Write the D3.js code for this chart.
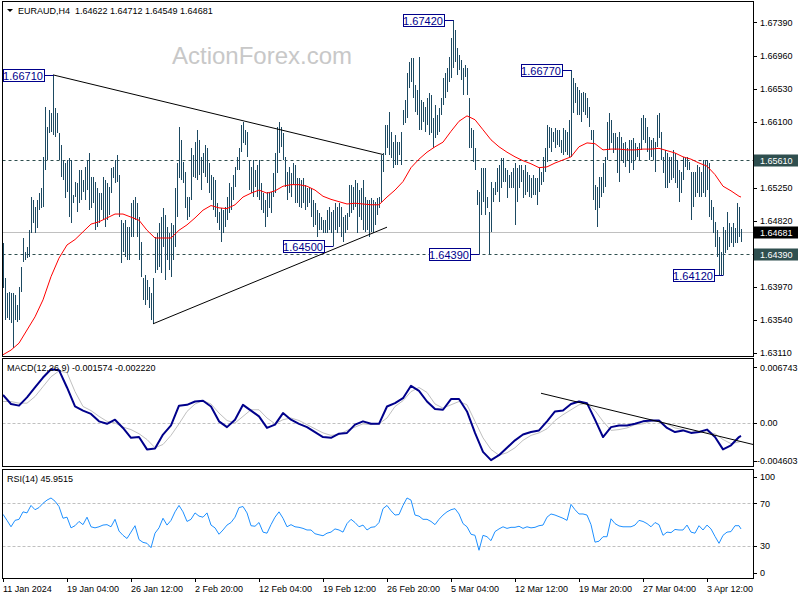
<!DOCTYPE html>
<html><head><meta charset="utf-8">
<script src="https://cdn.jsdelivr.net/npm/d3@7"></script>
<style>
body{margin:0;background:#fff}
svg{display:block}
text{font-family:"Liberation Sans",Arial,sans-serif}
</style>
</head><body>
<svg id="c" width="800" height="600"></svg>
<script>
// ---------------- DATA ----------------
const symbol = "EURAUD,H4";
const lastOHLC = [1.64622, 1.64712, 1.64549, 1.64681];

const highs = [
1.6454,1.6408,1.6389,1.6390,1.6389,1.6389,1.6386,1.6373,1.6397,1.6423,
1.6460,1.6442,1.6448,1.6470,1.6513,1.6509,1.6500,1.6509,1.6518,1.6525,
1.6565,1.6630,1.6604,1.6626,1.6622,1.6671,1.6628,1.6622,1.6596,1.6580,
1.6561,1.6557,1.6561,1.6564,1.6561,1.6516,1.6533,1.6531,1.6548,1.6548,
1.6535,1.6552,1.6561,1.6570,1.6539,1.6539,1.6533,1.6525,1.6518,1.6518,
1.6539,1.6535,1.6531,1.6526,1.6551,1.6552,1.6561,1.6567,1.6542,1.6483,
1.6479,1.6483,1.6474,1.6474,1.6505,1.6509,1.6513,1.6505,1.6487,1.6455,
1.6408,1.6412,1.6406,1.6397,1.6389,1.6408,1.6461,1.6467,1.6479,1.6487,
1.6499,1.6490,1.6474,1.6467,1.6479,1.6477,1.6525,1.6557,1.6604,1.6587,
1.6558,1.6545,1.6513,1.6513,
1.6577,1.6567,1.6584,1.6600,1.6587,1.6565,1.6570,1.6580,1.6577,1.6557,
1.6542,1.6539,1.6535,1.6505,1.6494,1.6499,1.6496,1.6500,1.6513,1.6531,
1.6526,1.6542,1.6552,1.6565,1.6577,1.6606,1.6610,1.6600,1.6597,1.6561,
1.6552,1.6561,1.6548,1.6555,1.6561,1.6531,1.6518,1.6509,1.6520,1.6518,
1.6520,1.6544,1.6570,1.6604,1.6610,1.6604,1.6596,1.6565,1.6545,1.6552,
1.6544,1.6557,1.6555,1.6538,1.6538,1.6535,1.6538,1.6529,1.6525,1.6526,
1.6525,1.6509,1.6505,1.6496,1.6492,1.6487,1.6483,1.6483,1.6496,1.6500,
1.6494,1.6496,1.6505,1.6500,1.6505,1.6500,1.6487,1.6490,1.6492,1.6529,
1.6529,1.6526,1.6535,1.6531,1.6522,1.6525,1.6535,1.6513,1.6509,1.6509,1.6512,1.6509,
1.6506,1.6512,1.6513,1.6567,1.6570,1.6606,1.6606,1.6623,1.6597,1.6584,
1.6593,1.6584,1.6584,1.6597,1.6626,1.6639,1.6674,1.6688,1.6693,1.6693,
1.6658,1.6652,1.6694,1.6639,1.6636,1.6630,1.6641,1.6648,1.6645,1.6615,
1.6632,1.6619,1.6628,1.6641,1.6667,1.6673,1.6680,1.6694,1.6719,1.6742,
1.6729,1.6706,1.6697,1.6690,1.6680,1.6684,1.6680,1.6641,1.6602,1.6600,
1.6577,1.6522,1.6520,1.6551,1.6551,1.6551,1.6513,1.6494,1.6533,1.6525,
1.6533,1.6551,1.6555,1.6564,1.6564,1.6551,1.6548,1.6542,1.6545,1.6551,
1.6557,1.6551,1.6555,1.6555,1.6548,1.6555,1.6545,1.6542,1.6538,1.6542,
1.6538,1.6538,1.6551,1.6545,1.6565,1.6577,1.6606,1.6604,1.6602,1.6597,1.6602,1.6600,
1.6600,
1.6587,1.6602,1.6600,1.6597,1.6613,1.6677,1.6667,1.6661,1.6655,1.6652,
1.6648,1.6649,1.6648,1.6641,1.6630,1.6600,1.6600,1.6529,1.6526,1.6539,
1.6539,1.6557,1.6565,1.6610,1.6622,1.6613,1.6596,1.6596,1.6591,1.6597,
1.6591,1.6583,1.6584,1.6577,1.6587,1.6587,1.6589,1.6583,1.6578,1.6583,
1.6615,1.6619,1.6615,1.6604,1.6591,1.6587,1.6589,1.6584,1.6619,1.6622,
1.6597,1.6565,1.6574,1.6570,1.6565,1.6565,1.6574,1.6570,1.6561,1.6548,
1.6545,1.6565,1.6564,1.6565,1.6558,1.6545,1.6545,1.6545,1.6555,1.6552,
1.6545,1.6561,1.6561,1.6561,1.6557,1.6509,1.6500,1.6481,1.6470,1.6461,
1.6442,1.6474,1.6470,1.6494,1.6479,1.6474,1.6479,1.6473,1.6505,1.6500,1.64712
];

const lows = [
1.6395,1.6354,1.6357,1.6354,1.6350,1.6318,1.6354,1.6351,1.6354,1.6390,
1.6429,1.6432,1.6434,1.6436,1.6467,1.6479,1.6467,1.6473,1.6496,1.6499,
1.6500,1.6548,1.6561,1.6596,1.6597,1.6593,1.6591,1.6596,1.6561,1.6539,
1.6535,1.6512,1.6520,1.6487,1.6479,1.6505,1.6513,1.6494,1.6505,1.6509,
1.6520,1.6509,1.6522,1.6496,1.6499,1.6505,1.6470,1.6474,1.6479,1.6496,
1.6483,1.6474,1.6483,1.6490,1.6518,1.6538,1.6531,1.6533,1.6487,1.6428,
1.6442,1.6436,1.6432,1.6432,1.6461,1.6461,1.6483,1.6461,1.6432,1.6410,
1.6380,1.6373,1.6380,1.6370,1.6354,1.6349,1.6415,1.6419,1.6423,1.6415,
1.6448,1.6406,1.6432,1.6419,1.6410,1.6432,1.6448,1.6487,1.6538,1.6535,
1.6531,1.6499,1.6483,1.6487,
1.6509,1.6539,1.6538,1.6535,1.6542,1.6522,1.6544,1.6539,1.6531,1.6518,
1.6509,1.6496,1.6487,1.6479,1.6470,1.6455,1.6467,1.6474,1.6483,1.6492,
1.6496,1.6509,1.6526,1.6548,1.6548,1.6571,1.6583,1.6580,1.6565,1.6522,
1.6518,1.6513,1.6526,1.6513,1.6509,1.6496,1.6492,1.6474,1.6487,1.6499,
1.6492,1.6513,1.6518,1.6544,1.6570,1.6578,1.6561,1.6526,1.6509,1.6518,
1.6513,1.6529,1.6505,1.6505,1.6500,1.6499,1.6505,1.6496,1.6500,1.6505,
1.6487,1.6474,1.6477,1.6461,1.6470,1.6470,1.6467,1.6467,1.6467,1.6470,
1.6467,1.6450,1.6470,1.6467,1.6474,1.6461,1.6455,1.6467,1.6470,1.6487,
1.6492,1.6496,1.6500,1.6467,1.6487,1.6483,1.6470,1.6468,1.6470,1.6461,1.6468,1.6467,
1.6477,1.6490,1.6499,1.6506,1.6545,1.6567,1.6577,1.6567,1.6564,1.6551,
1.6555,1.6555,1.6567,1.6555,1.6606,1.6609,1.6615,1.6654,1.6662,1.6641,
1.6623,1.6619,1.6600,1.6600,1.6610,1.6597,1.6606,1.6593,1.6596,1.6577,
1.6589,1.6593,1.6597,1.6619,1.6632,1.6641,1.6649,1.6662,1.6667,1.6680,
1.6688,1.6671,1.6677,1.6664,1.6645,1.6668,1.6645,1.6577,1.6577,1.6558,
1.6548,1.6503,1.6439,1.6490,1.6506,1.6490,1.6499,1.6439,1.6468,1.6506,
1.6516,1.6520,1.6506,1.6525,1.6533,1.6533,1.6512,1.6525,1.6525,1.6525,
1.6477,1.6506,1.6525,1.6533,1.6512,1.6516,1.6520,1.6513,1.6512,1.6516,
1.6516,1.6503,1.6520,1.6529,1.6533,1.6545,1.6558,1.6577,1.6571,1.6584,1.6577,1.6580,
1.6578,
1.6570,1.6567,1.6571,1.6567,1.6565,1.6565,1.6622,1.6635,1.6619,1.6619,
1.6610,1.6623,1.6619,1.6615,1.6604,1.6587,1.6509,1.6496,1.6474,1.6499,
1.6513,1.6518,1.6526,1.6561,1.6574,1.6583,1.6570,1.6574,1.6544,1.6533,
1.6561,1.6557,1.6552,1.6561,1.6544,1.6557,1.6548,1.6561,1.6565,1.6561,
1.6574,1.6587,1.6583,1.6571,1.6561,1.6565,1.6561,1.6545,1.6578,1.6589,
1.6561,1.6544,1.6525,1.6525,1.6531,1.6535,1.6538,1.6531,1.6525,1.6506,
1.6518,1.6535,1.6552,1.6548,1.6548,1.6483,1.6500,1.6513,1.6518,1.6513,
1.6513,1.6518,1.6513,1.6522,1.6487,1.6483,1.6467,1.6449,1.6436,1.6412,
1.6412,1.6412,1.6441,1.6445,1.6449,1.6454,1.6449,1.6454,1.6454,1.6461,1.64549
];

// moving average, one value every 4 bars (last value = last bar)
const maStep = 4;
const ma = [
1.6309,1.6315,1.6324,1.6341,1.6358,1.6380,1.6410,1.6434,1.6451,1.6458,
1.6468,1.6478,1.6481,1.6486,1.6491,1.6491,1.6487,1.6483,1.6470,1.6460,
1.6460,1.6460,1.6470,1.6477,1.6486,1.6496,1.6502,1.6499,1.6498,1.6503,
1.6513,1.6518,1.6522,1.6518,1.6521,1.6527,1.6529,1.6529,1.6527,1.6522,
1.6514,1.6510,1.6507,1.6504,1.6505,1.6504,1.6503,1.6503,1.6513,1.6522,
1.6533,1.6551,1.6562,1.6571,1.6578,1.6584,1.6598,1.6611,1.6618,1.6613,
1.6600,1.6587,1.6578,1.6571,1.6565,1.6560,1.6556,1.6551,1.6552,1.6557,
1.6561,1.6565,1.6578,1.6583,1.6582,1.6574,1.6575,1.6575,1.6574,1.6574,
1.6575,1.6575,1.6576,1.6573,1.6570,1.6565,1.6562,1.6557,1.6553,1.6542,
1.6527,1.6521,1.6514,1.6513
];

// MACD(12,26,9): main and signal, one value every 4 bars
const macdStep = 4;
const macd = [
0.0034,0.0023,0.0021,0.0031,0.0043,0.0055,0.0065,0.0064,0.0043,0.0020,
0.0015,0.0011,0.0002,-0.0001,0.0004,-0.0006,-0.0018,-0.0017,-0.0032,-0.0031,
-0.0014,-0.0003,0.0021,0.0022,0.0026,0.0027,0.0020,0.0002,-0.0005,0.0004,
0.0022,0.0015,0.0008,-0.0006,-0.0002,0.0012,0.0004,-0.0001,-0.0005,-0.0011,
-0.0017,-0.0018,-0.0013,-0.0012,-0.0002,0.0002,-0.0001,-0.0001,0.0020,0.0024,
0.0030,0.0045,0.0039,0.0026,0.0017,0.0016,0.0029,0.0029,0.0014,-0.0012,
-0.0035,-0.0045,-0.0039,-0.0030,-0.0021,-0.0014,-0.0011,-0.0009,0.0002,0.0014,
0.0015,0.0023,0.0026,0.0024,0.0004,-0.0017,-0.0005,-0.0003,-0.0003,-0.0001,
0.0002,0.0003,0.0003,-0.0006,-0.0011,-0.0009,-0.0012,-0.0011,-0.0008,-0.0017,
-0.0032,-0.0027,-0.0017,-0.001574
];
const signal = [
0.0026,0.0026,0.0024,0.0024,0.0032,0.0044,0.0056,0.0063,0.0061,0.0038,
0.0020,0.0015,0.0008,0.0002,0.0000,-0.0005,-0.0008,-0.0013,-0.0020,-0.0030,
-0.0026,-0.0015,-0.0001,0.0014,0.0023,0.0027,0.0023,0.0012,0.0003,0.0000,
0.0008,0.0016,0.0016,0.0006,-0.0001,0.0004,0.0006,0.0003,-0.0002,-0.0007,
-0.0012,-0.0015,-0.0014,-0.0009,-0.0005,-0.0001,-0.0002,-0.0001,0.0006,0.0020,
0.0027,0.0038,0.0043,0.0037,0.0023,0.0018,0.0022,0.0026,0.0022,0.0002,
-0.0018,-0.0032,-0.0039,-0.0036,-0.0030,-0.0021,-0.0015,-0.0012,-0.0007,0.0003,
0.0010,0.0016,0.0022,0.0024,0.0015,0.0002,-0.0009,-0.0008,-0.0006,-0.0002,
-0.0001,0.0002,0.0002,-0.0001,-0.0006,-0.0008,-0.0011,-0.0011,-0.0011,-0.0013,
-0.0020,-0.0025,-0.0023,-0.002220
];

// RSI(14), one value every 2 bars
const rsiStep = 2;
const rsi = [
59.7,54,48,54,55,62,61,68,64,66,
70,73,75,72,67,56,57,47,49,53,
50,57,48,47,48,49.6,50,48,55,44,
40,37,43,49,36,33.4,32.5,28.4,42,47,
56,49.6,54,62,68,62,53,55,61,58,
57,61,49.6,47,41,45,49.6,52,57,66,
67,61,49,48.5,52,43,42,50,57,62,
56,48,50,48,47.5,46.5,45,45,41.5,40.5,
39.6,42,43,46,45,43,51,55,52,48,
49.6,45,47.5,48,52,65,68,63,59,59.5,
68,75,73,59,58,55,55,53,50,55,
59,62,64,65,60,51,48,41,40,26,
40,38.7,35,43.5,46,48,46.5,47.5,47.5,48.5,
46.5,48,47,47.5,49,49.6,57,60,59,57.5,
56,54,69,64,60,60,59,50,33.6,34.5,
38.7,38.7,55.5,51,48.8,48,48,48,49.6,54,
53,51,48,52,50,40,43,42.5,45.5,45,
45,49.6,43,42,49,45,49.6,46,39,32.5,
40,43,43.5,49,49,45.9515
];

const macdHeader = ["-0.001574", "-0.002220"];
const rsiHeader = "45.9515";

const timeLabels = ["11 Jan 2024","19 Jan 04:00","26 Jan 12:00","2 Feb 20:00","12 Feb 04:00","19 Feb 12:00","26 Feb 20:00","5 Mar 04:00","12 Mar 12:00","19 Mar 20:00","27 Mar 04:00","3 Apr 12:00"];
const timeLabelBars = [0,32,64,96,128,160,192,224,256,288,320,352];

const priceTicks = [1.6739,1.6696,1.6653,1.6610,1.6525,1.6482,1.6397,1.6354,1.6311];
const priceRange = [1.6311, 1.6742];
const levelLines = [1.6561, 1.6439];
const extremeLabels = [
  {bar:25, price:1.6671},
  {bar:225, price:1.6742},
  {bar:284, price:1.6677},
  {bar:165, price:1.6450},
  {bar:238, price:1.6439},
  {bar:360, price:1.6412}
];
const trendUpper = [{bar:25, price:1.6671},{bar:190, price:1.6568}];
const trendLower = [{bar:75, price:1.6349},{bar:192, price:1.6474}];
const macdTrend  = [{bar:269, value:0.0036},{bar:375, value:-0.0026}];
const macdRange = [-0.004603, 0.006743];
const macdTicks = ["0.006743","0.00","-0.004603"];
const rsiLevels = [70, 30];
const rsiTicks = [100, 70, 30, 0];

// ---------------- DRAW ----------------
const svg = d3.select("#c");
const NB = highs.length;
const lastBar = NB - 1;
const P = {
  main: {x0:2.5, x1:753.5, y0:1.5, y1:356.5},
  macd: {x0:2.5, x1:753.5, y0:358.5, y1:466.5},
  rsi:  {x0:2.5, x1:753.5, y0:469.5, y1:578.5}
};
const x = d3.scaleLinear().domain([0, lastBar]).range([3, 741]);
const bx = i => Math.round(x(i)) + 0.5;
const yP = d3.scaleLinear().domain(priceRange).range([353.2, 20]);
const yM = d3.scaleLinear().domain(macdRange).range([461, 367.3]);
const yR = d3.scaleLinear().domain([0, 100]).range([578, 471.3]);
const BAR = "#1d4a62", NAVY = "#00008b", SLATE = "#2f4f4f";

const defs = svg.append("defs");
Object.entries(P).forEach(([k,p]) => {
  defs.append("clipPath").attr("id","clip-"+k).append("rect")
    .attr("x",p.x0+0.5).attr("y",p.y0+0.5).attr("width",p.x1-p.x0-1).attr("height",p.y1-p.y0-1);
});

// watermark
svg.append("text").attr("x",172).attr("y",64).attr("font-size",24).attr("fill","#c8c8c8")
  .text("ActionForex.com");

const gMain = svg.append("g").attr("clip-path","url(#clip-main)");
// current price line
gMain.append("line").attr("x1",P.main.x0).attr("x2",P.main.x1)
  .attr("y1",Math.round(yP(lastOHLC[3]))+0.5).attr("y2",Math.round(yP(lastOHLC[3]))+0.5)
  .attr("stroke","#c0c0c0");
// horizontal dashed levels
gMain.selectAll("line.lvl").data(levelLines).join("line").attr("class","lvl")
  .attr("x1",P.main.x0).attr("x2",P.main.x1)
  .attr("y1",d=>Math.round(yP(d))+0.5).attr("y2",d=>Math.round(yP(d))+0.5)
  .attr("stroke",SLATE).attr("stroke-dasharray","3,3");
// bars
gMain.selectAll("line.bar").data(highs).join("line").attr("class","bar")
  .attr("x1",(d,i)=>bx(i)).attr("x2",(d,i)=>bx(i))
  .attr("y1",d=>Math.round(yP(d)))
  .attr("y2",(d,i)=>Math.max(Math.round(yP(lows[i])), Math.round(yP(d))+1))
  .attr("stroke",BAR).attr("shape-rendering","crispEdges");
// MA
const maLine = d3.line().x((d,i)=>x(Math.min(i*maStep,lastBar))).y(d=>yP(d));
gMain.append("path").attr("d",maLine(ma)).attr("fill","none").attr("stroke","#ff0000").attr("stroke-width",1);
// trendlines
[trendUpper, trendLower].forEach(t => {
  gMain.append("line").attr("x1",x(t[0].bar)).attr("y1",yP(t[0].price))
    .attr("x2",x(t[1].bar)).attr("y2",yP(t[1].price)).attr("stroke","#000").attr("stroke-width",1);
});
// extreme labels
extremeLabels.forEach(e => {
  const xb = bx(e.bar), yy = Math.round(yP(e.price)) + 0.5;
  const bw = 41, bh = 12, xr = xb - 10;
  gMain.append("line").attr("x1",xr).attr("x2",xb).attr("y1",yy).attr("y2",yy).attr("stroke",NAVY);
  gMain.append("rect").attr("x",Math.round(xr-bw)+0.5).attr("y",Math.round(yy-bh/2)-0.5)
    .attr("width",bw).attr("height",bh).attr("fill","#fff").attr("stroke",NAVY);
  gMain.append("text").attr("x",xr-bw/2).attr("y",yy+4).attr("text-anchor","middle")
    .attr("font-size",11).attr("fill",NAVY).text(e.price.toFixed(5));
});

// MACD panel
const gM = svg.append("g").attr("clip-path","url(#clip-macd)");
gM.append("line").attr("x1",P.macd.x0).attr("x2",P.macd.x1)
  .attr("y1",Math.round(yM(0))+0.5).attr("y2",Math.round(yM(0))+0.5)
  .attr("stroke","#c0c0c0").attr("stroke-dasharray","3,2");
const mLine = d3.line().x((d,i)=>x(Math.min(i*macdStep,lastBar))).y(d=>yM(d));
gM.append("path").attr("d",mLine(signal)).attr("fill","none").attr("stroke","#c0c0c0").attr("stroke-width",1);
gM.append("path").attr("d",mLine(macd)).attr("fill","none").attr("stroke",NAVY).attr("stroke-width",2).attr("stroke-linejoin","round");
gM.append("line").attr("x1",x(macdTrend[0].bar)).attr("y1",yM(macdTrend[0].value))
  .attr("x2",x(macdTrend[1].bar)).attr("y2",yM(macdTrend[1].value)).attr("stroke","#000");

// RSI panel
const gR = svg.append("g").attr("clip-path","url(#clip-rsi)");
gR.selectAll("line.rl").data(rsiLevels).join("line").attr("class","rl")
  .attr("x1",P.rsi.x0).attr("x2",P.rsi.x1)
  .attr("y1",d=>Math.round(yR(d))+0.5).attr("y2",d=>Math.round(yR(d))+0.5)
  .attr("stroke","#c0c0c0").attr("stroke-dasharray","3,2");
const rLine = d3.line().x((d,i)=>x(Math.min(i*rsiStep,lastBar))).y(d=>yR(d));
gR.append("path").attr("d",rLine(rsi)).attr("fill","none").attr("stroke","#1e90ff").attr("stroke-width",1);

// panel borders
Object.values(P).forEach(p => {
  svg.append("rect").attr("x",p.x0).attr("y",p.y0).attr("width",p.x1-p.x0).attr("height",p.y1-p.y0)
    .attr("fill","none").attr("stroke","#000");
});

// right axis labels
const axisText = (y, t, dx=0) => {
  svg.append("line").attr("x1",753.5).attr("x2",757).attr("y1",Math.round(y)+0.5).attr("y2",Math.round(y)+0.5).attr("stroke","#000");
  svg.append("text").attr("x",760+dx).attr("y",y+3.2).attr("font-size",9).attr("fill","#000").text(t);
};
priceTicks.forEach(v => axisText(yP(v), v.toFixed(5)));
macdTicks.forEach(t => {
  const v = +t;
  const y = Math.max(P.macd.y0+8, Math.min(P.macd.y1-5.5, yM(v)));
  axisText(y, t, t.startsWith("-") ? -3 : 0);
});
rsiTicks.forEach(v => {
  const y = Math.max(P.rsi.y0+7, Math.min(P.rsi.y1-6, yR(v)));
  axisText(y, String(v));
});
// level boxes on the axis
const axisBox = (v, fill) => {
  const y = Math.round(yP(v)) + 0.5;
  svg.append("rect").attr("x",754).attr("y",y-6).attr("width",44).attr("height",12).attr("fill",fill);
  svg.append("text").attr("x",760).attr("y",y+3.2).attr("font-size",9).attr("fill","#fff").text(v.toFixed(5));
};
levelLines.forEach(v => axisBox(v, SLATE));
axisBox(lastOHLC[3], "#000");

// time axis
timeLabelBars.forEach((b,i) => {
  const xx = bx(b);
  svg.append("line").attr("x1",xx).attr("x2",xx).attr("y1",578.5).attr("y2",582).attr("stroke","#000");
  svg.append("text").attr("x",xx-0.5).attr("y",592).attr("font-size",9).attr("fill","#000").text(timeLabels[i]);
});

// headers
svg.append("path").attr("d","M7,9 L13,9 L10,12 Z").attr("fill","#000");
svg.append("text").attr("x",18).attr("y",14).attr("font-size",9).attr("fill","#000")
  .style("white-space","pre").text(symbol + "  " + lastOHLC.map(v=>v.toFixed(5)).join(" "));
svg.append("text").attr("x",7).attr("y",371).attr("font-size",9).attr("fill","#000")
  .text("MACD(12,26,9) " + macdHeader.join(" "));
svg.append("text").attr("x",7).attr("y",481.5).attr("font-size",9).attr("fill","#000")
  .text("RSI(14) " + rsiHeader);
</script>
</body></html>
